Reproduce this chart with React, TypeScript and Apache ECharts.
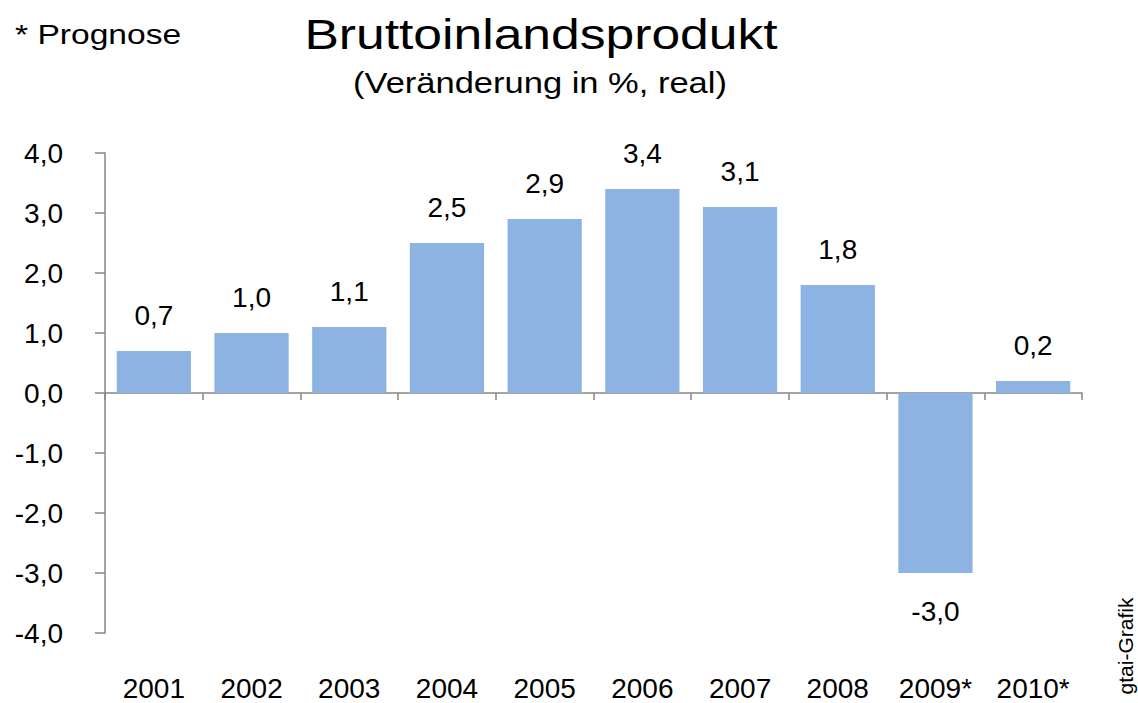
import React, { useEffect, useRef } from "react";
import * as echarts from "echarts";

const years = ["2001", "2002", "2003", "2004", "2005", "2006", "2007", "2008", "2009*", "2010*"];
const growth = [0.7, 1.0, 1.1, 2.5, 2.9, 3.4, 3.1, 1.8, -3.0, 0.2];
const titleText = "Bruttoinlandsprodukt";
const subtitleText = "(Veränderung in %, real)";
const noteText = "* Prognose";
const sourceText = "gtai-Grafik";

const FONT = "'Liberation Sans', Arial, sans-serif";
const fmt = (v: number) => v.toFixed(1).replace(".", ",");

export default function App() {
  const ref = useRef<HTMLDivElement>(null);
  useEffect(() => {
    if (!ref.current) return;
    const chart = echarts.init(ref.current, null, { renderer: "svg" });
    chart.setOption({
      animation: false,
      backgroundColor: "#ffffff",
      textStyle: { fontFamily: FONT },
      grid: { left: 105, right: 56, top: 153, bottom: 70, containLabel: false, outerBoundsMode: "none" },
      xAxis: [
        {
          type: "category",
          data: years,
          axisLine: { onZero: true, lineStyle: { color: "#868686", width: 1.5 } },
          axisTick: { show: true, length: 7, lineStyle: { color: "#868686", width: 1.5 } },
          axisLabel: { show: false },
          splitLine: { show: false },
        },
        {
          type: "category",
          data: years,
          position: "bottom",
          axisLine: { show: false, onZero: false },
          axisTick: { show: false },
          axisLabel: { margin: 41, fontSize: 28, color: "#000", fontFamily: FONT },
          splitLine: { show: false },
        },
      ],
      yAxis: {
        type: "value",
        min: -4,
        max: 4,
        interval: 1,
        axisLine: { show: true, lineStyle: { color: "#868686", width: 1.5 } },
        axisTick: { show: true, length: 10, lineStyle: { color: "#868686", width: 1.5 } },
        axisLabel: { margin: 42, fontSize: 28, color: "#000", fontFamily: FONT, formatter: (v: number) => fmt(v) },
        splitLine: { show: false },
      },
      series: [
        {
          type: "bar",
          xAxisIndex: 0,
          barWidth: "76%",
          itemStyle: { color: "#8DB3E2" },
          label: {
            show: true,
            position: "top",
            distance: 22,
            fontSize: 28,
            color: "#000",
            fontFamily: FONT,
            formatter: (p: any) => fmt(p.value),
          },
          data: growth.map((v) =>
            v < 0 ? { value: v, label: { position: "bottom", distance: 24 } } : { value: v }
          ),
        },
      ],
      graphic: [
        {
          type: "text",
          x: 541,
          y: 34,
          scaleX: 1.2,
          style: { text: titleText, font: `43px ${FONT}`, fill: "#000", textAlign: "center", textVerticalAlign: "middle" },
        },
        {
          type: "text",
          x: 540,
          y: 83,
          scaleX: 1.19,
          style: { text: subtitleText, font: `29px ${FONT}`, fill: "#000", textAlign: "center", textVerticalAlign: "middle" },
        },
        {
          type: "text",
          x: 15,
          y: 34,
          scaleX: 1.2,
          style: { text: noteText, font: `28px ${FONT}`, fill: "#000", textAlign: "left", textVerticalAlign: "middle" },
        },
        {
          type: "text",
          x: 1125,
          y: 646,
          rotation: Math.PI / 2,
          style: { text: sourceText, font: `21px ${FONT}`, fill: "#000", textAlign: "center", textVerticalAlign: "middle" },
        },
      ],
    });
    return () => chart.dispose();
  }, []);
  return <div ref={ref} style={{ width: 1138, height: 703, position: "absolute", left: 0, top: 0 }} />;
}
